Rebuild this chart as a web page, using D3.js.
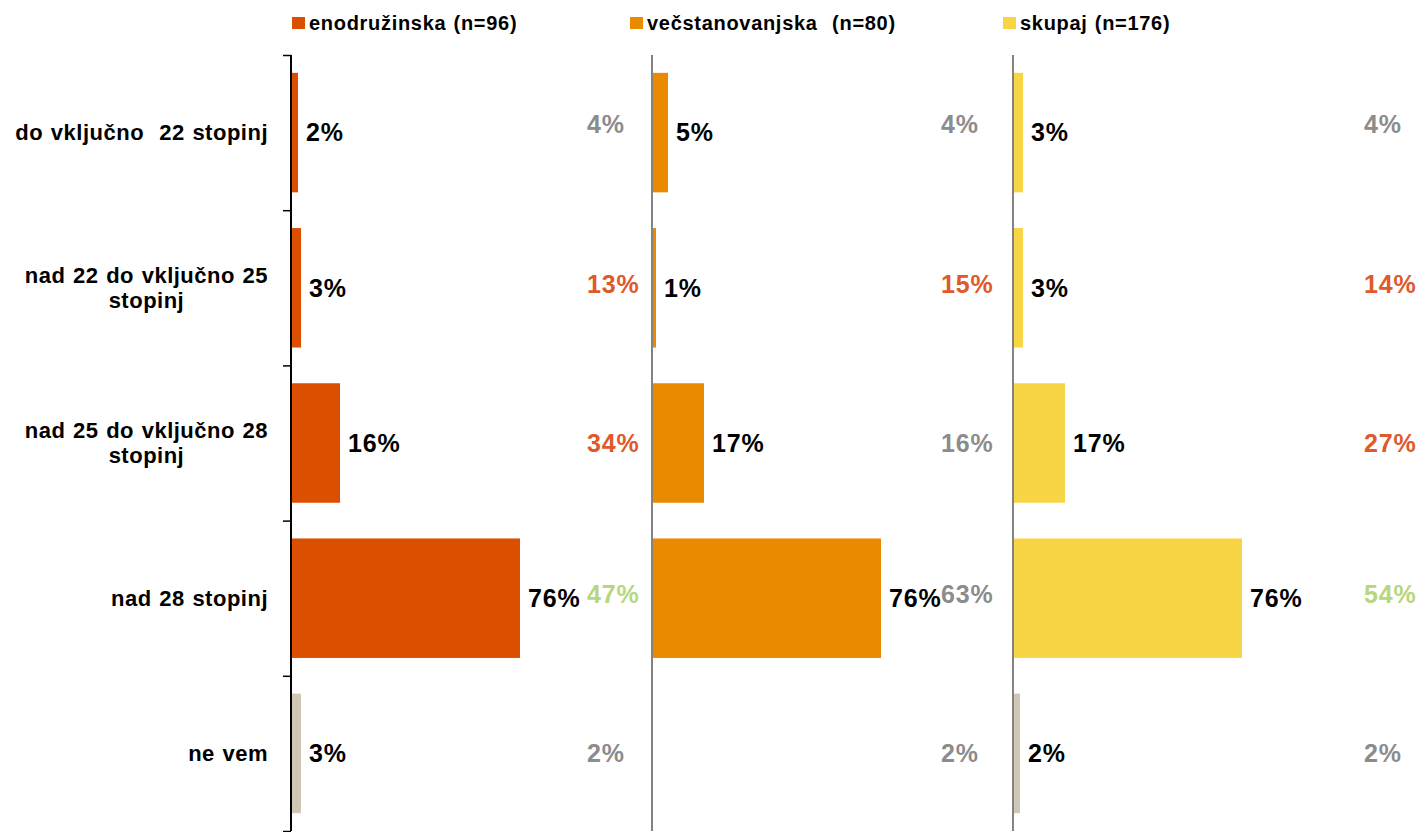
<!DOCTYPE html>
<html>
<head>
<meta charset="utf-8">
<script src="https://cdn.jsdelivr.net/npm/d3@7"></script>
<style>
    body { margin: 0; background: #fff; }
    text { font-family: "Liberation Sans", Arial, sans-serif; font-weight: bold; }
</style>
</head>
<body>
<div id="chart"></div>
<script>
(function() {
    // data
    var categories = [ 'do vključno  22 stopinj', 'nad 22 do vključno 25 stopinj', 'nad 25 do vključno 28 stopinj', 'nad 28 stopinj', 'ne vem' ];
    var seriesNames = [ 'enodružinska (n=96)', 'večstanovanjska  (n=80)', 'skupaj (n=176)' ];

    var enodruzinska = [ 2, 3, 16, 76, 3 ],
        vecstanovanjska = [ 5, 1, 17, 76, null ],
        skupaj = [ 3, 3, 17, 76, 2 ];

    // earlier survey, shown on the right of each panel
    var prevEnodruzinska = [ 4, 13, 34, 47, 2 ],
        prevVecstanovanjska = [ 4, 15, 16, 63, 2 ],
        prevSkupaj = [ 4, 14, 27, 54, 2 ];

    // n = no change, d = down, u = up
    var flagEnodruzinska = [ 'n', 'd', 'd', 'u', 'n' ],
        flagVecstanovanjska = [ 'n', 'd', 'n', 'n', 'n' ],
        flagSkupaj = [ 'n', 'd', 'd', 'u', 'n' ];

    // layout
    var WIDTH = 1421, HEIGHT = 832;
    var seriesColors = [ '#DD4F00', '#EA8A00', '#F8D545' ],
        neVemColor = '#CFC6B6',
        flagColors = { n: '#8C8C8C', d: '#E0592A', u: '#B8D67E' };

    var panelX = [ 291, 652, 1013 ],
        prevX = [ 587, 941, 1364 ],
        prevDy = [ -8, -4, 0, -4, 0 ],
        legendX = [ 292, 630, 1003 ];

    var panels = [
        { values: enodruzinska, prev: prevEnodruzinska, flags: flagEnodruzinska },
        { values: vecstanovanjska, prev: prevVecstanovanjska, flags: flagVecstanovanjska },
        { values: skupaj, prev: prevSkupaj, flags: flagSkupaj }
    ];

    var svg = d3.select('#chart')
        .append('svg')
            .attr('width', WIDTH)
            .attr('height', HEIGHT);

    var y = d3.scaleBand()
        .domain(categories)
        .range([55, 831])
        .paddingInner(0.23)
        .paddingOuter(0.115);

    var x = d3.scaleLinear()
        .domain([0, 100])
        .range([0, 300]);

    var fmt = function(d) { return d3.format('.0f')(d) + '%'; };

    var LABEL_SIZE = 22, LINE_H = 25, VALUE_SIZE = 25;

    var styleText = function(sel, size, spacing) {
        return sel
            .attr('font-size', size)
            .style('letter-spacing', spacing + 'px')
            .style('word-spacing', '1px')
            .style('white-space', 'pre');
    };

    // category labels, right aligned block with centred lines
    var wrapLines = function(label, maxWidth) {
        var probe = styleText(svg.append('text'), LABEL_SIZE, 0.5);
        var words = label.split(' '),
            lines = [],
            line = '';
        words.forEach( w => {
            var test = line === '' ? w : line + ' ' + w;
            probe.text(test);
            if ( probe.node().getComputedTextLength() > maxWidth && line !== '' ) {
                lines.push(line);
                line = w;
            } else {
                line = test;
            }
        });
        lines.push(line);
        var widths = lines.map( l => { probe.text(l); return probe.node().getComputedTextLength(); });
        probe.remove();
        return { lines: lines, width: d3.max(widths) };
    };

    categories.forEach( c => {
        var wrapped = wrapLines(c, 262);
        var cx = 268 - wrapped.width / 2,
            cy = y(c) + y.bandwidth() / 2 - (wrapped.lines.length - 1) * LINE_H / 2;

        var t = styleText(svg.append('text'), LABEL_SIZE, 0.5)
            .attr('text-anchor', 'middle')
            .attr('fill', '#000');

        wrapped.lines.forEach( (l, i) => {
            t.append('tspan')
                .attr('x', cx)
                .attr('y', cy + i * LINE_H)
                .attr('dy', '0.35em')
                .text(l);
        });
    });

    // panels
    panels.forEach( (p, pi) => {
        var g = svg.append('g')
            .attr('transform', 'translate(' + panelX[pi] + ', 0)');

        var rows = categories.map( (c, i) => ({ i: i, cat: c, value: p.values[i], prev: p.prev[i], flag: p.flags[i], last: i === categories.length - 1 }) );

        g.selectAll('rect.bar')
            .data(rows.filter( d => d.value !== null ))
            .enter()
            .append('rect')
                .attr('class', 'bar')
                .attr('x', 1)
                .attr('y', d => y(d.cat))
                .attr('width', d => x(d.value))
                .attr('height', y.bandwidth())
                .attr('fill', d => d.last ? neVemColor : seriesColors[pi]);

        styleText(g.selectAll('text.val')
            .data(rows.filter( d => d.value !== null ))
            .enter()
            .append('text'), VALUE_SIZE, 0.8)
                .attr('class', 'val')
                .attr('x', d => x(d.value) + 9)
                .attr('y', d => y(d.cat) + y.bandwidth() / 2)
                .attr('dy', '0.35em')
                .attr('fill', '#000')
                .text(d => fmt(d.value));

        styleText(g.selectAll('text.prev')
            .data(rows)
            .enter()
            .append('text'), VALUE_SIZE, 0.8)
                .attr('class', 'prev')
                .attr('x', prevX[pi] - panelX[pi])
                .attr('y', d => y(d.cat) + y.bandwidth() / 2 + prevDy[d.i])
                .attr('dy', '0.35em')
                .attr('fill', d => flagColors[d.flag])
                .text(d => fmt(d.prev));

        // axis
        if ( pi === 0 ) {
            var axis = d3.axisLeft(d3.scaleLinear().domain([0, categories.length]).range(y.range()))
                .ticks(categories.length)
                .tickSize(8)
                .tickFormat('');
            var ag = g.append('g').call(axis);
            ag.select('.domain').attr('stroke', '#000').attr('stroke-width', 2).attr('d', 'M0,' + y.range()[0] + 'V' + y.range()[1]);
            ag.selectAll('.tick line').attr('stroke', '#000').attr('stroke-width', 1.5);
        } else {
            g.append('line')
                .attr('x1', 0).attr('x2', 0)
                .attr('y1', y.range()[0]).attr('y2', y.range()[1])
                .attr('stroke', '#5A5A5A')
                .attr('stroke-width', 1.5);
        }

        // legend
        svg.append('rect')
            .attr('x', legendX[pi])
            .attr('y', 17)
            .attr('width', 13)
            .attr('height', 12)
            .attr('fill', seriesColors[pi]);

        styleText(svg.append('text'), 20, 0.7)
            .attr('x', legendX[pi] + 17)
            .attr('y', 23)
            .attr('dy', '0.35em')
            .attr('fill', '#000')
            .text(seriesNames[pi]);
    });
}());
</script>
</body>
</html>
